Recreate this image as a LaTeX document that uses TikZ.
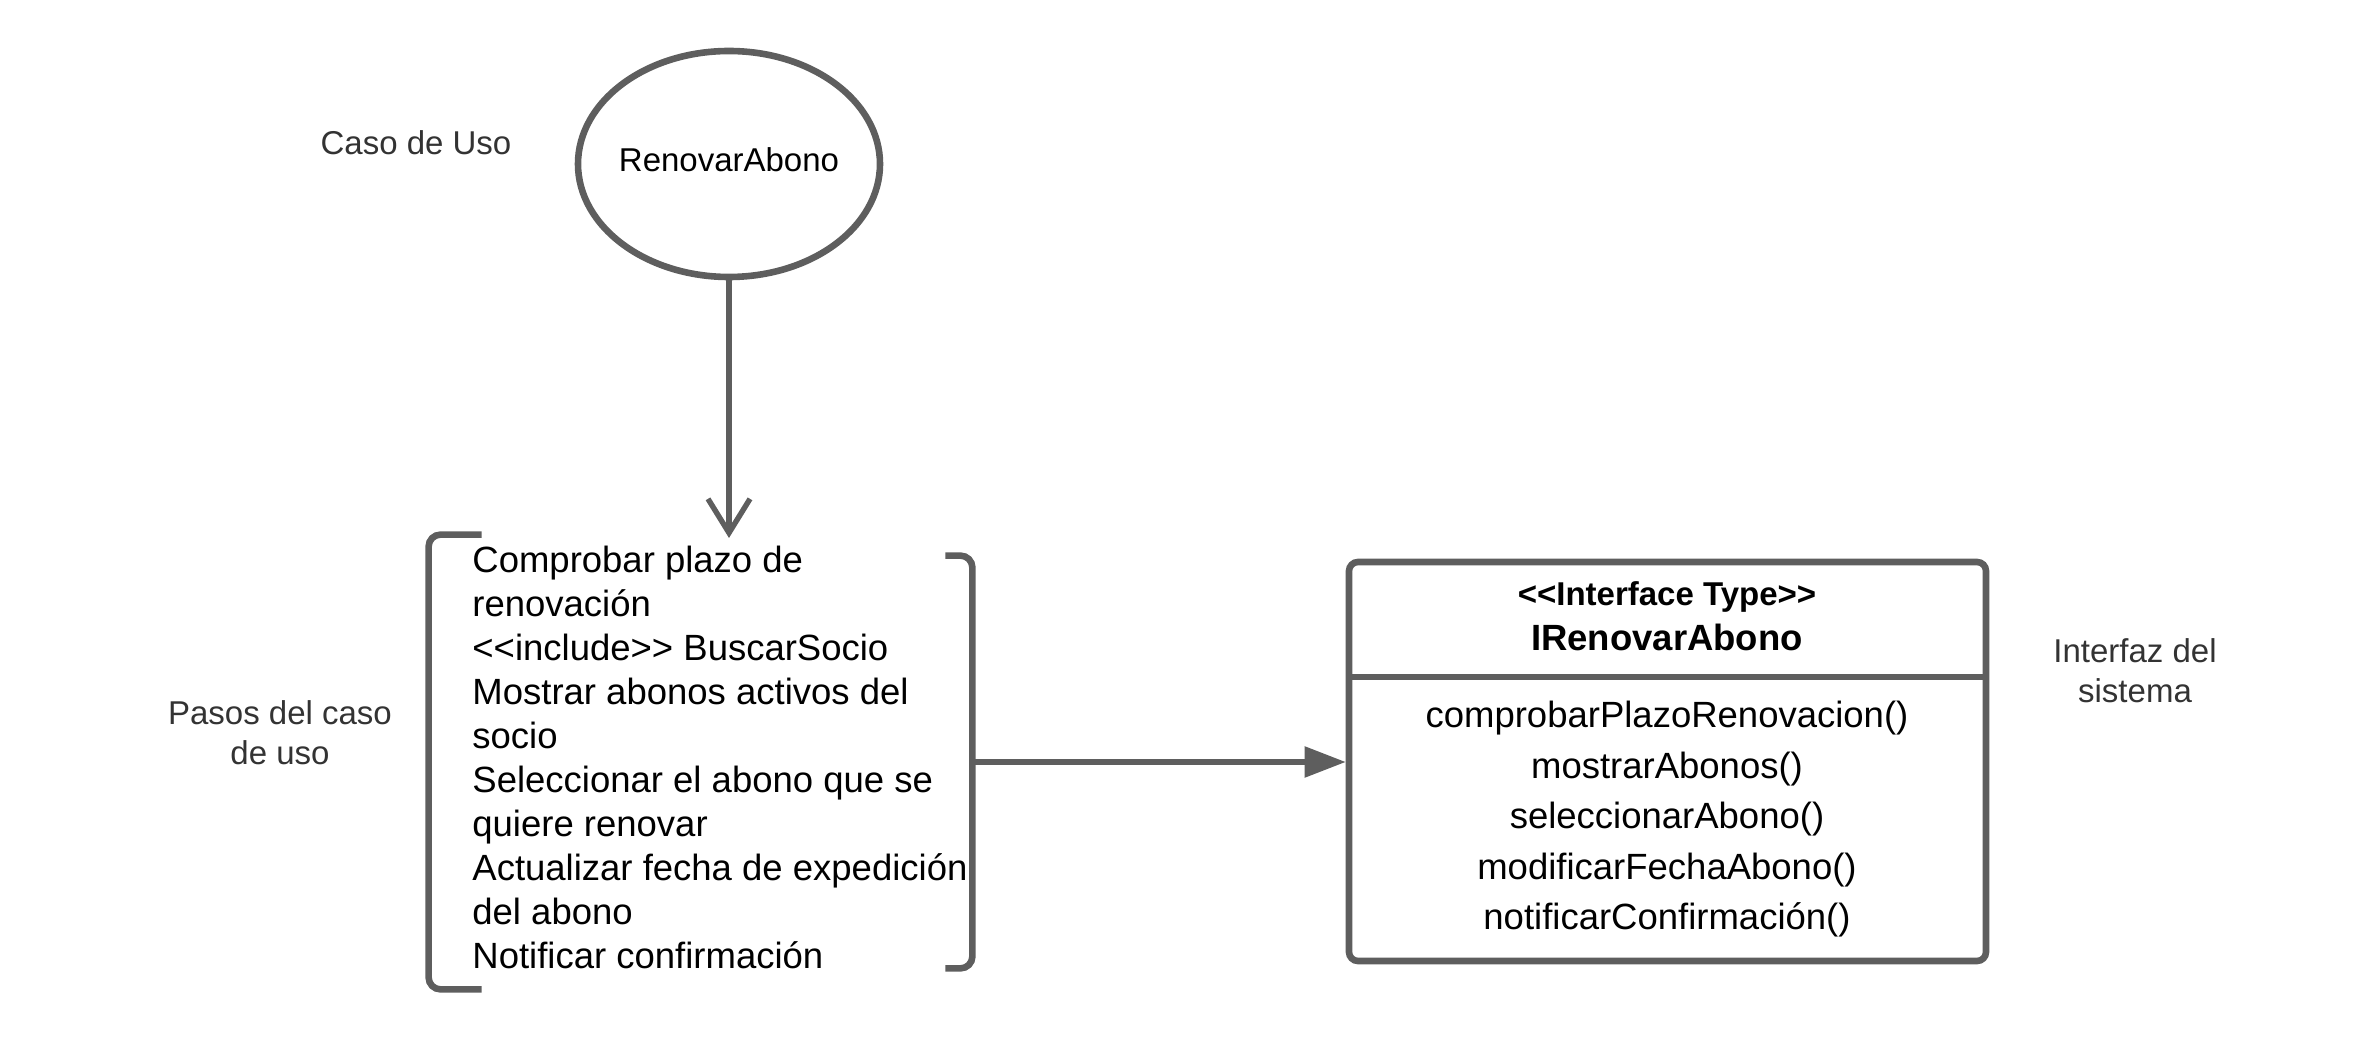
\documentclass[tikz,border=0pt]{standalone}
\usepackage{fontspec}
\newfontfamily\lsans{Liberation Sans}
\usetikzlibrary{arrows.meta,shapes.geometric}
\definecolor{linegray}{RGB}{94,94,94}
\definecolor{labelgray}{RGB}{51,51,51}
\tikzset{
  shapeline/.style={draw=linegray, line width=3.3pt},
  conn/.style={draw=linegray, line width=2.7pt},
  sidelabel/.style={font=\lsans\fontsize{16.5pt}{20pt}\selectfont, text=labelgray, align=center, inner sep=0pt},
  bodytext/.style={font=\lsans\fontsize{18.25pt}{22pt}\selectfont, text=black, inner sep=0pt},
}
\begin{document}
\begin{tikzpicture}[x=0.5pt,y=-0.5pt]
\useasboundingbox (0,0) rectangle (2363,1058);
% use case ellipse
\node (uc) [ellipse, shapeline, fill=white, minimum width=151pt, minimum height=113pt, inner sep=0pt] at (729,164) {};
\node (uctext) [font=\lsans\fontsize{16.5pt}{20pt}\selectfont, inner sep=0pt] at (729,160) {RenovarAbono};
% labels
\node (lbluc) [sidelabel] at (416,143) {Caso de Uso};
\node (lblsteps) [sidelabel] at (280,733) {Pasos del caso\\de uso};
\node (lbliface) [sidelabel] at (2135,671) {Interfaz del\\sistema};
% steps region
\node (steps) [minimum width=271.5pt, minimum height=227pt, inner sep=0pt] at (700.5,762) {};
\coordinate (tip) at (729,538);
\draw[shapeline, rounded corners=6pt] ([xshift=26.5pt]steps.north west) -- (steps.north west) -- (steps.south west) -- ([xshift=26.5pt]steps.south west);
\draw[shapeline, rounded corners=6pt] ([xshift=-13.5pt,yshift=-10.5pt]steps.north east) -- ([yshift=-10.5pt]steps.north east) -- ([yshift=10.5pt]steps.south east) -- ([xshift=-13.5pt,yshift=10.5pt]steps.south east);
\node (stepstxt) [bodytext, anchor=west, align=left] at (472,757) {Comprobar plazo de\\renovación\\<<include>> BuscarSocio\\Mostrar abonos activos del\\socio\\Seleccionar el abono que se\\quiere renovar\\Actualizar fecha de expedición\\del abono\\Notificar confirmación};
% interface box
\node (iface) [shapeline, rounded corners=4.5pt, minimum width=318.5pt, minimum height=199.5pt, inner sep=0pt] at (1667.5,761.5) {};
\coordinate (divl) at (1350,677);
\coordinate (divr) at (1985,677);
\draw[shapeline] (divl) -- (divr);
\node (stereo) [font=\lsans\bfseries\fontsize{16.5pt}{20pt}\selectfont, inner sep=0pt] at (1667,597) {<<Interface Type>>};
\node (iname) [font=\lsans\bfseries\fontsize{18.25pt}{22pt}\selectfont, inner sep=0pt] at (1667,637) {IRenovarAbono};
\node (methods) [font=\lsans\fontsize{18.25pt}{25.25pt}\selectfont, align=center, inner sep=0pt] at (1667,819.5) {comprobarPlazoRenovacion()\\mostrarAbonos()\\seleccionarAbono()\\modificarFechaAbono()\\notificarConfirmación()};
% connectors
\draw[conn, -{Straight Barb[length=17pt,width=21pt,line width=2.7pt]}] (uc.south) -- (tip);
\draw[conn, -{Triangle[length=20.5pt,width=15pt]}, linegray] (steps.east) -- (steps.east -| iface.west);
\end{tikzpicture}
\end{document}
